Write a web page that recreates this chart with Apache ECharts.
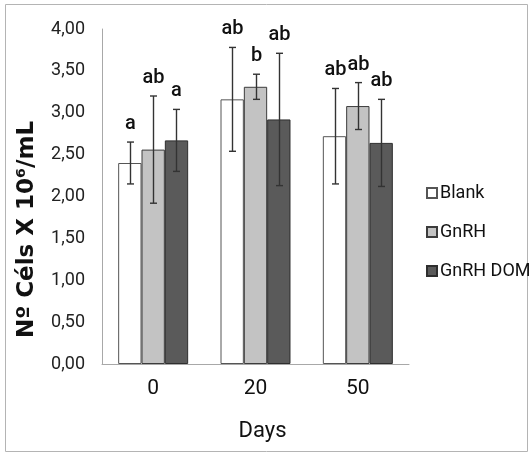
<!DOCTYPE html>
<html>
<head>
<meta charset="utf-8">
<script src="https://cdn.jsdelivr.net/npm/echarts@6/dist/echarts.min.js"></script>
<style>
  html, body { margin: 0; padding: 0; background: #ffffff; }
  #chart { width: 529px; height: 455px; }
</style>
</head>
<body>
<div id="chart"></div>
<script>
// ---- data ----
const categories = ['0', '20', '50'];
const seriesNames = ['Blank', 'GnRH', 'GnRH DOM'];
const blankMean = [2.40, 3.16, 2.72];
const blankErr  = [0.25, 0.62, 0.57];
const gnrhMean  = [2.56, 3.31, 3.08];
const gnrhErr   = [0.64, 0.15, 0.28];
const domMean   = [2.67, 2.92, 2.64];
const domErr    = [0.37, 0.79, 0.52];
const blankLetters = ['a', 'ab', 'ab'];
const gnrhLetters  = ['ab', 'b', 'ab'];
const domLetters   = ['a', 'ab', 'ab'];
const yTicks = [0, 0.5, 1, 1.5, 2, 2.5, 3, 3.5, 4];

// ---- styles ----
const colors = ['#ffffff', '#c3c3c3', '#5a5a5a'];
const borders = ['#555555', '#3c3c3c', '#2e2e2e'];
const BAR_FRAC = 0.228;
const FONT = "Roboto, 'Noto Sans', sans-serif";

const means = [blankMean, gnrhMean, domMean];
const errs = [blankErr, gnrhErr, domErr];
const letters = [blankLetters, gnrhLetters, domLetters];

const chart = echarts.init(document.getElementById('chart'), null, { renderer: 'canvas' });

function makeErrSeries(si) {
  const data = categories.map((c, i) => [i, means[si][i], errs[si][i], letters[si][i]]);
  return {
    type: 'custom',
    name: seriesNames[si] + ' err',
    z: 10,
    clip: false,
    silent: true,
    data: data,
    encode: { x: 0, y: 1 },
    renderItem: function (params, api) {
      const ci = api.value(0);
      const m = api.value(1);
      const e = api.value(2);
      const band = api.size([1, 0])[0];
      const off = (si - 1) * band * BAR_FRAC;
      const top = api.coord([ci, m + e]);
      const bot = api.coord([ci, m - e]);
      const x = Math.round(top[0] + off) + 0.5;
      const cap = 3.5;
      const st = { stroke: '#333333', lineWidth: 1.4 };
      return {
        type: 'group',
        children: [
          { type: 'line', shape: { x1: x, y1: top[1], x2: x, y2: bot[1] }, style: st },
          { type: 'line', shape: { x1: x - cap, y1: top[1], x2: x + cap, y2: top[1] }, style: st },
          { type: 'line', shape: { x1: x - cap, y1: bot[1], x2: x + cap, y2: bot[1] }, style: st },
          { type: 'text', x: x, y: top[1] - 8,
            style: { text: letters[si][params.dataIndex], fill: '#111111', font: "500 20px " + FONT,
                     align: 'center', verticalAlign: 'bottom' } }
        ]
      };
    }
  };
}

const barSeries = seriesNames.map((n, si) => ({
  type: 'bar',
  name: n,
  data: means[si],
  barWidth: (BAR_FRAC * 100) + '%',
  barGap: '0%',
  itemStyle: { color: colors[si], borderColor: borders[si], borderWidth: 1 }
}));

const option = {
  backgroundColor: '#ffffff',
  animation: false,
  graphic: [{
    type: 'rect', silent: true, z: -1,
    shape: { x: 5.5, y: 4.5, width: 522, height: 447 },
    style: { fill: 'none', stroke: '#b4b4b4', lineWidth: 1 }
  }],
  grid: { left: 102, right: 120, top: 29, bottom: 91 },
  legend: {
    data: seriesNames,
    orient: 'vertical',
    left: 421, top: 179,
    itemWidth: 10, itemHeight: 10,
    itemGap: 21,
    icon: 'rect',
    textStyle: { fontFamily: FONT, fontSize: 18, color: '#111111', padding: [0, 0, 0, -2] }
  },
  xAxis: {
    type: 'category',
    data: categories,
    name: 'Days',
    nameLocation: 'middle',
    nameGap: 56,
    nameTextStyle: { fontFamily: FONT, fontSize: 22, color: '#111111', padding: [0, 0, 0, 14] },
    axisLine: { lineStyle: { color: '#a8a8a8', width: 1 } },
    axisTick: { show: false },
    axisLabel: { fontFamily: FONT, fontSize: 21, color: '#111111', margin: 14 }
  },
  yAxis: {
    type: 'value',
    min: 0, max: 4, interval: 0.5,
    name: 'Nº Céls X 10⁶/mL',
    nameLocation: 'middle',
    nameRotate: 90,
    nameGap: 63,
    nameTextStyle: { fontFamily: "'DejaVu Sans', sans-serif", fontWeight: 'bold', fontSize: 23,
                     color: '#111111', padding: [0, 66, 0, 0] },
    axisLine: { show: true, lineStyle: { color: '#a8a8a8', width: 1 } },
    axisTick: { show: false },
    splitLine: { show: false },
    axisLabel: {
      fontFamily: FONT, fontSize: 18, color: '#222222', margin: 17,
      formatter: v => yTicks.indexOf(v) >= 0 ? v.toFixed(2).replace('.', ',') : ''
    }
  },
  series: barSeries.concat([0, 1, 2].map(makeErrSeries))
};

chart.setOption(option);
</script>
</body>
</html>
